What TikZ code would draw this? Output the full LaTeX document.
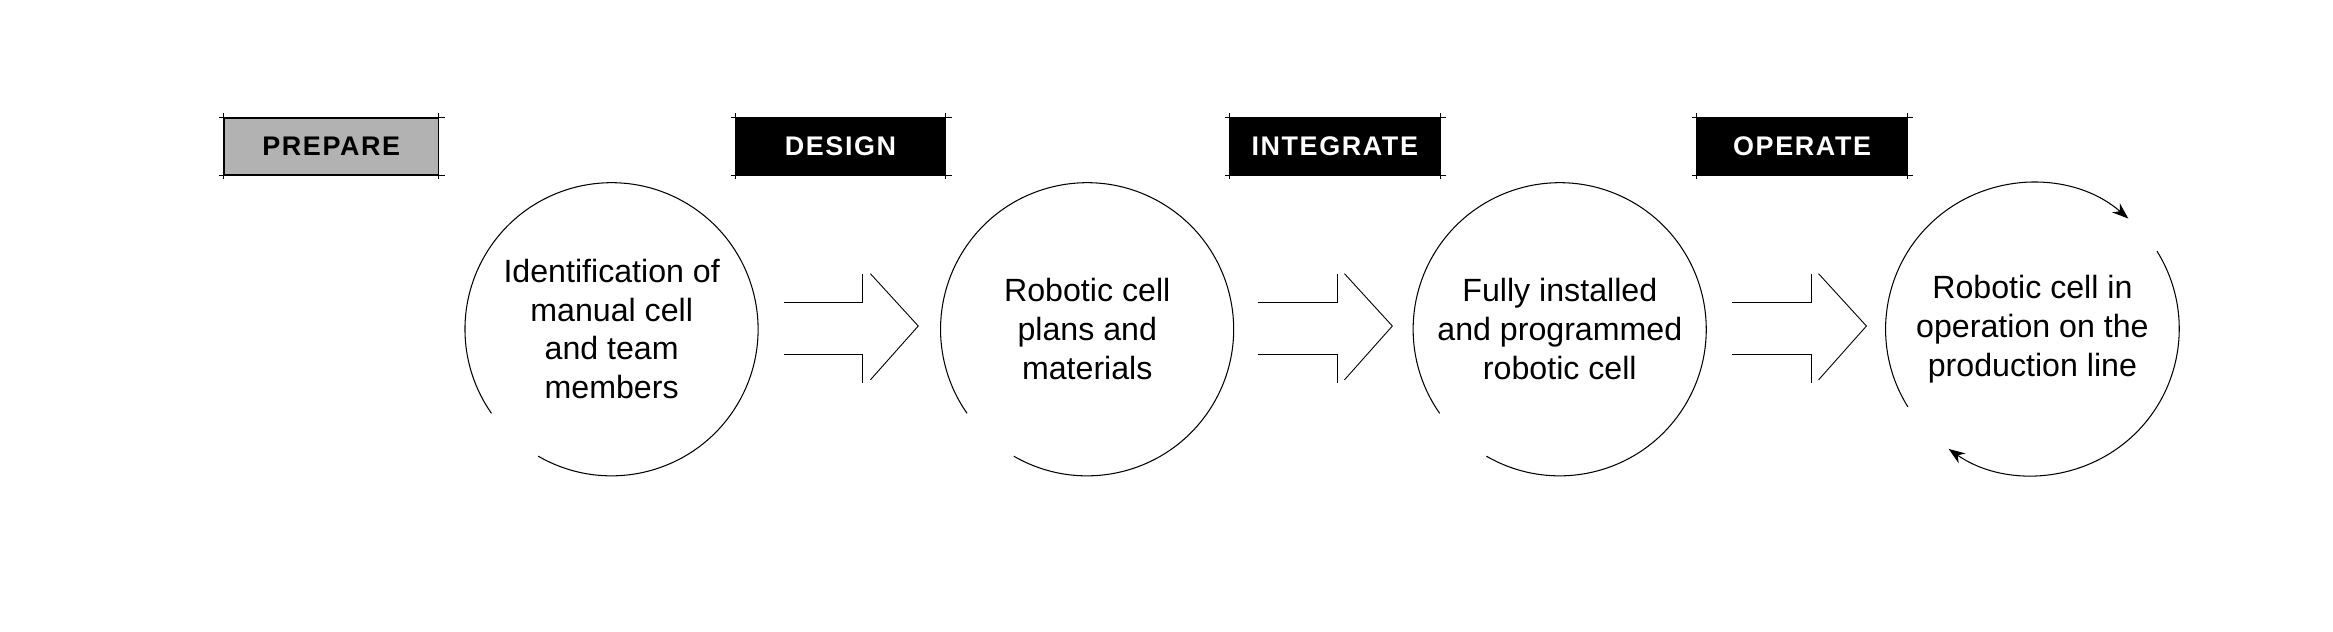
\documentclass[tikz,border=0pt]{standalone}
\usepackage{fontspec}
\setmainfont{Liberation Sans}
\newfontfamily\headfont[LetterSpace=6]{Liberation Sans}
\usetikzlibrary{arrows.meta}
\begin{document}
\begin{tikzpicture}[x=1pt,y=-1pt,
  phase/.style={draw=black,line width=0.8pt,minimum width=140pt,minimum height=38pt,inner sep=0pt,font=\headfont\fontsize{18}{20}\selectfont\bfseries},
  stage/.style={circle,minimum size=196pt,inner sep=0pt,align=center,font=\fontsize{21.5}{26}\selectfont},
  rim/.style={line width=0.7pt},
  blk/.style={line width=0.6pt}]
\useasboundingbox (0,0) rectangle (1560,422);
\node[phase,fill=black!30,minimum width=143pt] (p1) at (221.5,98) {PREPARE};
\node[phase,fill=black,text=white] (p2) at (562,98) {DESIGN};
\node[phase,fill=black,text=white] (p3) at (892.5,98) {INTEGRATE};
\node[phase,fill=black,text=white] (p4) at (1205,98) {OPERATE};
\foreach \p in {p1,p2,p3,p4}{
  \draw[line width=0.5pt] ([xshift=-3pt]\p.north west) -- ([xshift=4pt]\p.north east);
  \draw[line width=0.5pt] ([xshift=-3pt]\p.south west) -- ([xshift=4pt]\p.south east);
  \draw[line width=0.5pt] ([yshift=3pt]\p.north west) -- ([yshift=-2pt]\p.south west);
  \draw[line width=0.5pt] ([yshift=3pt]\p.north east) -- ([yshift=-2pt]\p.south east);
}
\node[stage] (c1) at (409,220) {Identification of\\manual cell\\and team\\members};
\node[stage] (c2) at (727,220) {Robotic cell\\plans and\\materials};
\node[stage] (c3) at (1043,220) {Fully installed\\and programmed\\robotic cell};
\node[stage] (c4) at (1359,220) {Robotic cell in\\operation on the\\production line};
\foreach \c in {c1,c2,c3}{
  \draw[rim] (\c.-120) arc[start angle=-120,end angle=215,radius=98pt];
}
\draw[rim,-{Stealth[length=11pt,width=8pt]}] (c4.212) arc[start angle=212,end angle=49,radius=98pt];
\draw[rim,-{Stealth[length=11pt,width=8pt]}] (c4.32) arc[start angle=32,end angle=-125,radius=98pt];
\foreach \i/\c in {0/c1,1/c2,2/c3}{
  \begin{scope}[xshift=\i*317pt]
  \coordinate (a\i) at (524,202);
  \draw[blk] (a\i) -- ++(53,0) -- ++(0,-19);
  \draw[blk] ([shift={(58,-19)}]a\i) -- ++(32,35) -- ++(-32,36);
  \draw[blk] ([shift={(0,35)}]a\i) -- ++(53,0) -- ++(0,19);
  \end{scope}
}
\end{tikzpicture}
\end{document}
